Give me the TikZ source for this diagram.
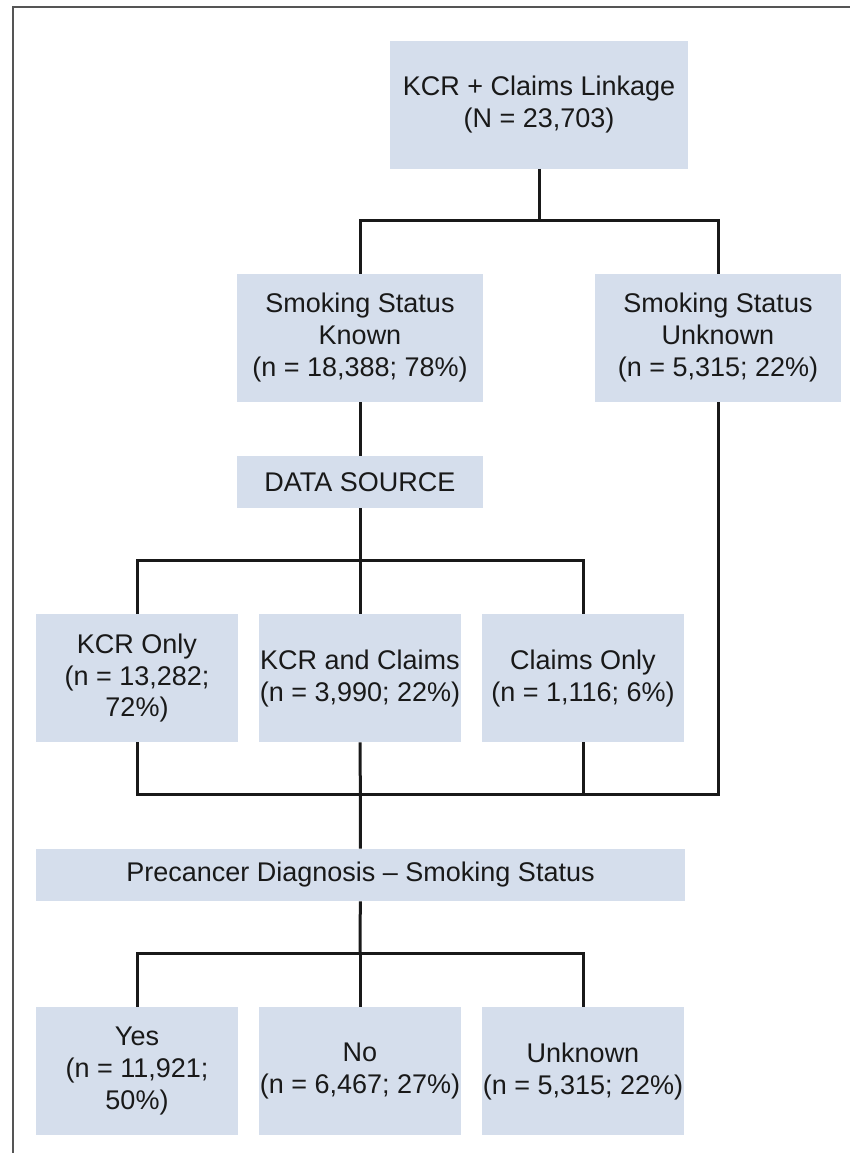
\documentclass[tikz,border=0pt]{standalone}
\usepackage{fontspec}
\setmainfont{Liberation Sans}
\usepackage{xcolor}
\definecolor{boxblue}{RGB}{213,222,236}
\definecolor{framegray}{RGB}{85,85,85}
\definecolor{inkblack}{RGB}{25,25,25}

\begin{document}
\begin{tikzpicture}[
				x=0.5pt, y=-0.5pt,
				font=\fontsize{13.5}{16}\selectfont,
				box/.style = {fill=boxblue, text=inkblack, align=center, inner sep=0pt, minimum height=64pt},
				thinbox/.style = {box, minimum height=26pt},
				wide/.style = {minimum width=123pt},
				narrow/.style = {minimum width=101pt},
				conn/.style = {draw=inkblack, line width=1.5pt, miter limit=2},
				frame/.style = {draw=framegray, line width=0.8pt}
				]
				
				\useasboundingbox (0,0) rectangle (850,1153);
				\draw[frame] (13,1160) -- (13,7) -- (860,7);
				
				\node[box, minimum width=149pt] (link) at (539,104.5) {KCR + Claims Linkage\\(N = 23,703)};
				\node[box, wide] (known) at (360,338) {Smoking Status\\Known\\(n = 18,388; 78\%)};
				\node[box, wide] (unknwn) at (718,338) {Smoking Status\\Unknown\\(n = 5,315; 22\%)};
				\node[thinbox, wide] (source) at (360,482) {DATA SOURCE};
				
				\node[box, narrow] (kcronly) at (137,678) {KCR Only\\(n = 13,282;\\72\%)};
				\node[box, narrow] (kcrclaims) at (360,678) {KCR and Claims\\(n = 3,990; 22\%)};
				\node[box, narrow] (claimsonly) at (583,678) {Claims Only\\(n = 1,116; 6\%)};
				
				\node[thinbox, minimum width=324.5pt] (precancer) at (360.5,875) {Precancer Diagnosis -- Smoking Status};
				
				\node[box, narrow] (yes) at (137,1071) {Yes\\(n = 11,921;\\50\%)};
				\node[box, narrow] (no) at (360,1071) {No\\(n = 6,467; 27\%)};
				\node[box, narrow] (unk) at (583,1071) {Unknown\\(n = 5,315; 22\%)};
				
				\coordinate (j1) at (539,220);
				\coordinate (j2) at (360,560);
				\coordinate (j3) at (360,794);
				\coordinate (j4) at (360,953);
				
				\draw[conn] (link) -- (j1);
				\draw[conn] (known.north) |- (j1) -| (unknwn.north);
				\draw[conn] (known) -- (source);
				\draw[conn] (source) -- (j2);
				\draw[conn] (kcronly.north) |- (j2) -| (claimsonly.north);
				\draw[conn] (j2) -- (kcrclaims.north);
				\draw[conn] (kcronly.south) |- (j3) -| (unknwn.south);
				\draw[conn] (kcrclaims) -- (precancer);
				\draw[conn] (claimsonly.south) -- (claimsonly.south |- j3);
				\draw[conn] (precancer) -- (j4);
				\draw[conn] (yes.north) |- (j4) -| (unk.north);
				\draw[conn] (j4) -- (no.north);
			\end{tikzpicture}
\end{document}
